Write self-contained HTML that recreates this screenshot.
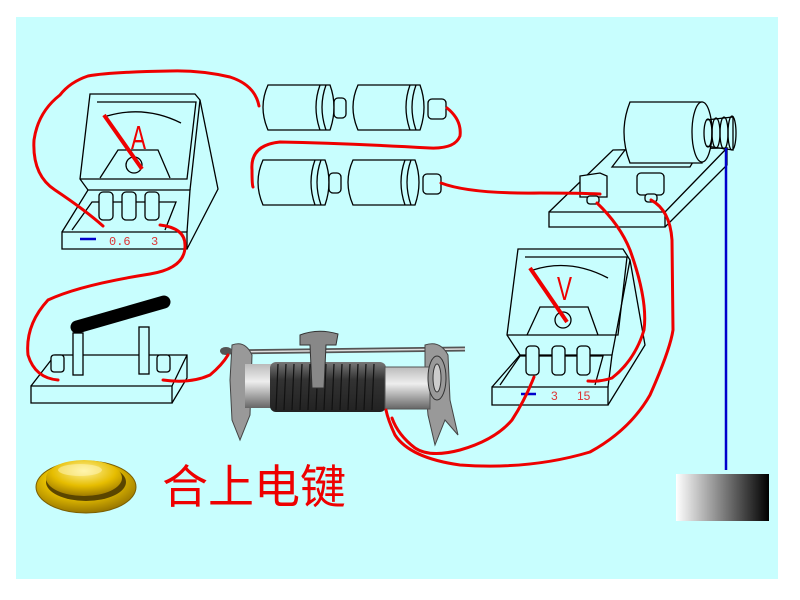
<!DOCTYPE html>
<html><head><meta charset="utf-8"><style>
html,body{margin:0;padding:0;background:#fff;width:800px;height:600px;overflow:hidden}
svg{display:block}
</style></head><body>
<svg width="800" height="600" viewBox="0 0 800 600" xmlns="http://www.w3.org/2000/svg">
<defs>
<linearGradient id="blk" x1="0" x2="1" y1="0" y2="0"><stop offset="0" stop-color="#fff"/><stop offset="1" stop-color="#000"/></linearGradient>
<radialGradient id="gold" cx="0.45" cy="0.35" r="0.7"><stop offset="0" stop-color="#fff7a0"/><stop offset="0.5" stop-color="#e8c000"/><stop offset="1" stop-color="#8a6a00"/></radialGradient>
<radialGradient id="gold2" cx="0.5" cy="0.3" r="0.7"><stop offset="0" stop-color="#fff39a"/><stop offset="0.6" stop-color="#e6bd00"/><stop offset="1" stop-color="#a07c00"/></radialGradient>
<linearGradient id="coil" x1="0" x2="0" y1="0" y2="1"><stop offset="0" stop-color="#777"/><stop offset="0.35" stop-color="#333"/><stop offset="1" stop-color="#222"/></linearGradient>
<linearGradient id="cap" x1="0" x2="0" y1="0" y2="1"><stop offset="0" stop-color="#bbb"/><stop offset="0.4" stop-color="#eee"/><stop offset="1" stop-color="#666"/></linearGradient>
</defs>
<rect x="16" y="17" width="762" height="562" fill="#c8fefe"/>

<g fill="none" stroke="#000" stroke-width="1.3">
<path d="M62,232 L187,232 L187,249 L62,249 Z"/>
<path d="M62,232 L88,190 L190,190 L187,232"/>
<path d="M187,249 L218,189 L200,100 L195,94 L90,94 L80,179 L88,190"/>
<path d="M97,102 L196,102 L187,179 L80,179"/>
<path d="M200,100 L190,190"/>
<path d="M72,230 L92,202 L176,202 L165,230"/>
<path d="M100,178 L118,150 L158,150 L170,178"/>
<path d="M107,116 Q145,105 181,123"/>
<circle cx="134" cy="165" r="8"/>
<g fill="#c8fefe"><rect x="99" y="192" width="14" height="28" rx="4"/><rect x="122" y="192" width="14" height="28" rx="4"/><rect x="145" y="192" width="14" height="28" rx="4"/></g>

<path d="M31,386 L172,386 L172,403 L31,403 Z"/>
<path d="M31,386 L55,355 L187,355 L187,378 L172,403 M187,355 L172,386"/>
<rect x="73" y="333" width="10" height="42" fill="#c8fefe"/>
<rect x="139" y="327" width="10" height="47" fill="#c8fefe"/>
<rect x="51" y="355" width="13" height="17" rx="3" fill="#c8fefe"/>
<rect x="157" y="355" width="13" height="17" rx="3" fill="#c8fefe"/>

<g fill="#c8fefe">
<path d="M268,85 L330,85 Q338,107 330,130 L268,130 Q258,107 268,85 Z"/>
<path d="M320,85 Q312,107 320,130 M326,85 Q318,107 326,130"/>
<rect x="334" y="98" width="12" height="20" rx="4"/>
<path d="M358,85 L420,85 Q428,107 420,130 L358,130 Q348,107 358,85 Z"/>
<path d="M410,85 Q402,107 410,130 M416,85 Q408,107 416,130"/>
<rect x="428" y="99" width="18" height="20" rx="4"/>
<path d="M263,160 L325,160 Q333,182 325,205 L263,205 Q253,182 263,160 Z"/>
<path d="M315,160 Q307,182 315,205 M321,160 Q313,182 321,205"/>
<rect x="329" y="173" width="12" height="20" rx="4"/>
<path d="M353,160 L415,160 Q423,182 415,205 L353,205 Q343,182 353,160 Z"/>
<path d="M405,160 Q397,182 405,205 M411,160 Q403,182 411,205"/>
<rect x="423" y="174" width="18" height="20" rx="4"/>
</g>

<path d="M549,212 L665,212 L665,227 L549,227 Z"/>
<path d="M549,212 L613,150 L727,148 L665,212 M665,227 L727,165 L727,148"/>
<path d="M612,167 L625,150 L700,150 L690,167 Z"/>
<path d="M630,102 L702,102 L702,163 L630,163 Q618,132 630,102 Z" fill="#c8fefe"/>
<ellipse cx="702" cy="132" rx="10" ry="30" fill="#c8fefe"/>
<path d="M706,120 L733,117 L733,150 L706,146"/>
<ellipse cx="708" cy="133" rx="4" ry="14"/><ellipse cx="716" cy="133" rx="4" ry="15"/><ellipse cx="724" cy="133" rx="4" ry="16"/><ellipse cx="732" cy="133" rx="4" ry="17"/>
<g fill="#c8fefe">
<path d="M580,176 L600,173 L607,176 L607,197 L580,197 Z"/>
<rect x="587" y="196" width="12" height="8" rx="3"/>
<rect x="637" y="173" width="27" height="22" rx="4"/>
<rect x="645" y="194" width="12" height="8" rx="3"/>
</g>

<path d="M492,387 L608,387 L608,405 L492,405 Z"/>
<path d="M492,387 L520,355 L612,355 L608,387"/>
<path d="M608,405 L645,345 L630,260 L623,249 L518,249 L507,335 L520,355"/>
<path d="M525,257 L627,257 L618,335 L507,335"/>
<path d="M630,260 L612,355"/>
<path d="M500,385 L520,356 L603,356 L595,385"/>
<path d="M527,335 L540,307 L588,307 L598,335"/>
<path d="M533,270 Q570,258 608,278"/>
<circle cx="563" cy="320" r="8"/>
<g fill="#c8fefe"><rect x="526" y="346" width="13" height="29" rx="4"/><rect x="552" y="346" width="13" height="29" rx="4"/><rect x="577" y="346" width="13" height="29" rx="4"/></g>
</g>

<line x1="104" y1="115" x2="142" y2="169" stroke="#e00" stroke-width="4"/>
<text x="0" y="0" transform="translate(131,149) scale(0.75,1.1)" fill="#e00" font-family="Liberation Sans, sans-serif" font-size="30">A</text>
<line x1="530" y1="268" x2="567" y2="322" stroke="#e00" stroke-width="4"/>
<text x="0" y="0" transform="translate(557,300) scale(0.75,1.1)" fill="#e00" font-family="Liberation Sans, sans-serif" font-size="30">V</text>
<line x1="80" y1="239" x2="96" y2="239" stroke="#00c" stroke-width="2.5"/>
<text x="109" y="245" fill="#d33" font-family="Liberation Mono, monospace" font-size="12">0.6</text>
<text x="151" y="245" fill="#d33" font-family="Liberation Mono, monospace" font-size="12">3</text>
<line x1="521" y1="394" x2="536" y2="394" stroke="#00c" stroke-width="2.5"/>
<text x="551" y="400" fill="#d33" font-family="Liberation Sans, sans-serif" font-size="12">3</text>
<text x="577" y="400" fill="#d33" font-family="Liberation Sans, sans-serif" font-size="12">15</text>

<line x1="77" y1="327" x2="164" y2="302" stroke="#000" stroke-width="13" stroke-linecap="round"/>

<g>
<line x1="222" y1="352" x2="465" y2="349" stroke="#555" stroke-width="5"/>
<line x1="222" y1="352" x2="465" y2="349" stroke="#ddd" stroke-width="1.5"/>
<path d="M232,345 Q245,340 252,355 L250,415 L240,440 L232,420 L230,380 Z" fill="#999" stroke="#444"/>
<path d="M425,345 Q440,340 448,355 L450,400 L458,435 L445,420 L435,445 L428,415 L425,380 Z" fill="#999" stroke="#444"/>
<rect x="245" y="364" width="30" height="44" fill="url(#cap)"/>
<rect x="270" y="362" width="116" height="50" rx="6" fill="url(#coil)"/>
<g stroke="#111" stroke-width="1.2">
<line x1="278" y1="364" x2="276" y2="410"/><line x1="286" y1="364" x2="284" y2="410"/><line x1="294" y1="364" x2="292" y2="410"/><line x1="302" y1="364" x2="300" y2="410"/><line x1="310" y1="364" x2="308" y2="410"/><line x1="318" y1="364" x2="316" y2="410"/><line x1="326" y1="364" x2="324" y2="410"/><line x1="334" y1="364" x2="332" y2="410"/><line x1="342" y1="364" x2="340" y2="410"/><line x1="350" y1="364" x2="348" y2="410"/><line x1="358" y1="364" x2="356" y2="410"/><line x1="366" y1="364" x2="364" y2="410"/><line x1="374" y1="364" x2="372" y2="410"/>
</g>
<rect x="385" y="367" width="45" height="42" fill="url(#cap)" stroke="#555"/>
<ellipse cx="437" cy="378" rx="9" ry="22" fill="#999" stroke="#333"/>
<ellipse cx="437" cy="378" rx="4" ry="14" fill="#ccc" stroke="#333"/>
<path d="M300,335 Q318,328 338,334 L336,345 L326,345 L324,388 L312,388 L310,345 L300,345 Z" fill="#888" stroke="#333"/>
<ellipse cx="226" cy="351" rx="6" ry="4" fill="#555"/>
</g>

<g fill="none" stroke="#e00" stroke-width="3" stroke-linecap="round">
<path d="M259,106 Q255,85 230,77 Q200,70 170,71 Q110,72 88,76 Q70,82 60,95 Q38,112 34,140 Q32,175 55,190 Q85,210 103,226"/>
<path d="M160,225 Q185,228 185,245 Q186,268 150,274 Q80,285 48,300 Q25,325 28,355 Q35,378 58,380"/>
<path d="M163,380 Q190,384 210,375 Q222,365 228,355"/>
<path d="M447,108 Q462,120 460,136 Q455,149 430,148 Q340,143 280,142 Q250,145 252,170 Q252,185 253,187"/>
<path d="M441,183 Q470,194 540,193 Q580,193 600,194"/>
<path d="M597,203 Q620,225 630,250 Q648,300 644,330 Q635,360 612,378 Q600,382 588,381"/>
<path d="M651,200 Q670,210 672,240 L673,330 Q670,350 650,395 Q630,430 590,452 Q530,470 460,465 Q410,458 395,435 Q388,420 386,410"/>
<path d="M534,377 Q525,400 512,420 Q495,440 460,450 Q430,458 415,448 Q398,435 392,418"/>
</g>

<line x1="726" y1="148" x2="726" y2="470" stroke="#00c" stroke-width="2.5"/>
<rect x="676" y="474" width="93" height="47" fill="url(#blk)"/>

<ellipse cx="86" cy="487" rx="50" ry="26" fill="url(#gold)" stroke="#7a5e00" stroke-width="1"/>
<ellipse cx="86" cy="482" rx="40" ry="19" fill="#5a4500"/>
<ellipse cx="84" cy="478" rx="38" ry="18" fill="url(#gold2)"/>
<ellipse cx="80" cy="470" rx="22" ry="6" fill="#fff8c0" opacity="0.5"/>

<text x="162" y="503" fill="#e00" font-family="Liberation Sans, 'Noto Sans CJK SC', sans-serif" font-size="46">合上电键</text>
</svg>
</body></html>
